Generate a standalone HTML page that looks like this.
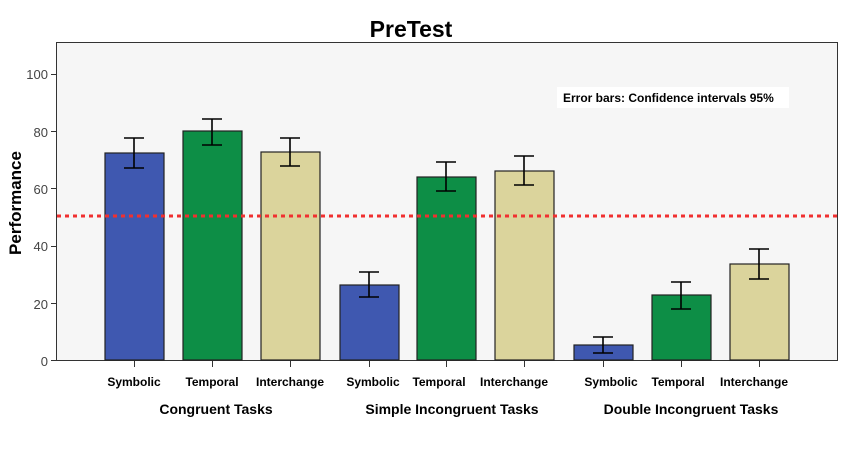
<!DOCTYPE html>
<html><head><style>body{margin:0;background:#fff}</style></head><body>
<svg width="842" height="446" xmlns="http://www.w3.org/2000/svg" font-family="Liberation Sans, sans-serif">
<rect x="0" y="0" width="842" height="446" fill="#fff"/>
<rect x="56.5" y="42.5" width="781" height="318" fill="#f6f6f6" stroke="#333" stroke-width="1"/>
<text x="411" y="37" text-anchor="middle" font-size="23" font-weight="bold">PreTest</text>
<text transform="translate(21,203) rotate(-90)" text-anchor="middle" font-size="17" font-weight="bold">Performance</text>
<g font-size="13" fill="#444" text-anchor="end">
<text x="48" y="79">100</text><text x="48" y="137">80</text><text x="48" y="194">60</text><text x="48" y="251">40</text><text x="48" y="309">20</text><text x="48" y="366">0</text>
</g>
<g stroke="#333"><line x1="51" y1="74.5" x2="56" y2="74.5"/><line x1="51" y1="131.5" x2="56" y2="131.5"/><line x1="51" y1="188.5" x2="56" y2="188.5"/><line x1="51" y1="246.5" x2="56" y2="246.5"/><line x1="51" y1="303.5" x2="56" y2="303.5"/><line x1="51" y1="360.5" x2="56" y2="360.5"/></g>
<rect x="557" y="87" width="232" height="21" fill="#fff"/>
<text x="563" y="102" font-size="12" font-weight="bold">Error bars: Confidence intervals 95%</text>
<g stroke="#222" stroke-width="1.2">
<rect x="105" y="153" width="59" height="207" fill="#3f58b0"/>
<rect x="183" y="131" width="59" height="229" fill="#0d8e46"/>
<rect x="261" y="152" width="59" height="208" fill="#dbd49c"/>
<rect x="340" y="285" width="59" height="75" fill="#3f58b0"/>
<rect x="417" y="177" width="59" height="183" fill="#0d8e46"/>
<rect x="495" y="171" width="59" height="189" fill="#dbd49c"/>
<rect x="574" y="345" width="59" height="15" fill="#3f58b0"/>
<rect x="652" y="295" width="59" height="65" fill="#0d8e46"/>
<rect x="730" y="264" width="59" height="96" fill="#dbd49c"/>
</g>
<line x1="57" y1="216" x2="837" y2="216" stroke="#f03030" stroke-width="3" stroke-dasharray="4,4"/>
<g stroke="#000" stroke-width="1.6" fill="none">
<path d="M134 138V168M124 138H144M124 168H144"/>
<path d="M212 119V145M202 119H222M202 145H222"/>
<path d="M290 138V166M280 138H300M280 166H300"/>
<path d="M369 272V297M359 272H379M359 297H379"/>
<path d="M446 162V191M436 162H456M436 191H456"/>
<path d="M524 156V185M514 156H534M514 185H534"/>
<path d="M603 337V353M593 337H613M593 353H613"/>
<path d="M681 282V309M671 282H691M671 309H691"/>
<path d="M759 249V279M749 249H769M749 279H769"/>
</g>
<g stroke="#333"><path d="M134.5 361v6M212.5 361v6M290.5 361v6M369.5 361v6M446.5 361v6M524.5 361v6M603.5 361v6M681.5 361v6M759.5 361v6"/></g>
<g font-size="12" font-weight="bold" text-anchor="middle">
<text x="134" y="386">Symbolic</text><text x="212" y="386">Temporal</text><text x="290" y="386">Interchange</text>
<text x="373" y="386">Symbolic</text><text x="439" y="386">Temporal</text><text x="514" y="386">Interchange</text>
<text x="611" y="386">Symbolic</text><text x="678" y="386">Temporal</text><text x="754" y="386">Interchange</text>
</g>
<g font-size="14" font-weight="bold" text-anchor="middle">
<text x="216" y="414">Congruent Tasks</text><text x="452" y="414">Simple Incongruent Tasks</text><text x="691" y="414">Double Incongruent Tasks</text>
</g>
</svg>
</body></html>
